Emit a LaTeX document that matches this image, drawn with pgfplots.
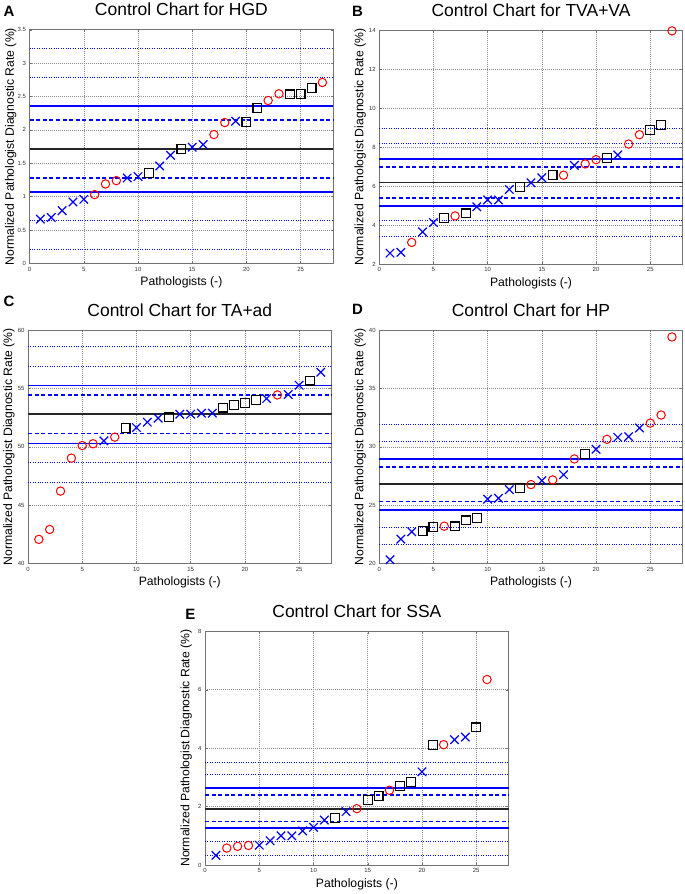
\documentclass[border=0pt]{standalone}
\usepackage{fontspec}
\setmainfont{Liberation Sans}
\usepackage{pgfplots}
\pgfplotsset{compat=1.18}

\pgfplotsset{
 cc/.style={
  scale only axis, width=304pt, height=234pt, anchor=south west,
  xmin=0, xmax=28, xtick={0,5,...,25},
  grid=major, major grid style={black!45, dash pattern=on 0.7pt off 1.3pt, line width=0.5pt},
  axis line style={black!55, line width=0.8pt},
  tick align=inside, tick style={black!55, line width=0.4pt}, major tick length=2.5pt,
  ticklabel style={font=\fontsize{6}{7}\selectfont, text=black!80},
  /pgf/number format/assume math mode=true,
  title style={font=\fontsize{17.5}{20}\selectfont, at={(axis description cs:0.5,1)}, anchor=center, yshift=14pt},
  xlabel style={font=\fontsize{12.2}{14}\selectfont, at={(axis description cs:0.5,0)}, anchor=center, yshift=-19pt},
  ylabel style={font=\fontsize{12.2}{14}\selectfont, at={(axis description cs:0,0.5)}, anchor=center, yshift=19pt},
  xlabel={Pathologists (-)},
  ylabel={Normalized Pathologist Diagnostic Rate (\%)},
  clip=false, unbounded coords=jump,
 },
}
\newcommand{\ctrl}[9]{%
 \addplot[blue, line width=1.0pt, dash pattern=on 1pt off 1.4pt, forget plot]
   coordinates {(0,#1) (28,#1) (14,nan) (0,#2) (28,#2) (14,nan) (0,#3) (28,#3) (14,nan) (0,#4) (28,#4)};
 \addplot[blue, line width=1.8pt, solid, forget plot]
   coordinates {(0,#5) (28,#5) (14,nan) (0,#6) (28,#6)};
 \addplot[blue, line width=1.8pt, dash pattern=on 4pt off 2.6pt, forget plot]
   coordinates {(0,#7) (28,#7) (14,nan) (0,#8) (28,#8)};
 \addplot[black!85, line width=1.8pt, solid, forget plot] coordinates {(0,#9) (28,#9)};
}
\pgfplotsset{
 xs/.style={only marks, mark=x, mark size=6pt, blue, mark options={line width=1.2pt}},
 os/.style={only marks, mark=o, mark size=4.2pt, red, mark options={line width=1pt}},
 ss/.style={only marks, mark=square, mark size=4.4pt, black, mark options={line width=1.2pt}},
}

\begin{document}
\begin{tikzpicture}[x=1pt,y=1pt]
\path (0,0) rectangle (685,894);
% ---------- A ----------
\begin{axis}[cc, at={(29.3pt,631.3pt)}, ymin=0, ymax=3.5, ytick={0,0.5,...,3.5},
  title={Control Chart for HGD}]
\ctrl{3.215}{2.786}{0.639}{0.21}{2.357}{1.073}{2.147}{1.283}{1.715}
\addplot[xs] coordinates {(1,0.664)(2,0.689)(3,0.79)(4,0.92)(5,0.96)(9,1.28)(10,1.30)(12,1.46)(13,1.62)(15,1.74)(16,1.78)(19,2.13)};
\addplot[os] coordinates {(6,1.03)(7,1.19)(8,1.24)(17,1.93)(18,2.11)(22,2.44)(23,2.54)(27,2.71)};
\addplot[ss] coordinates {(11,1.35)(14,1.71)(20,2.12)(21,2.33)(24,2.53)(25,2.54)(26,2.63)};
\end{axis}
% ---------- B ----------
\begin{axis}[cc, at={(379.3pt,630.7pt)}, ymin=2, ymax=14, ytick={2,4,...,14},
  title={Control Chart for TVA+VA}]
\ctrl{8.96}{8.18}{4.21}{3.43}{7.38}{5.0}{6.99}{5.4}{6.19}
\addplot[xs] coordinates {(1,2.56)(2,2.6)(4,3.65)(5,4.13)(9,4.94)(10,5.29)(11,5.29)(12,5.83)(14,6.17)(15,6.43)(18,7.07)(22,7.6)};
\addplot[os] coordinates {(3,3.11)(7,4.47)(17,6.56)(19,7.14)(20,7.36)(23,8.16)(24,8.64)(27,13.97)};
\addplot[ss] coordinates {(6,4.35)(8,4.6)(13,5.97)(16,6.56)(21,7.45)(25,8.88)(26,9.13)};
\end{axis}
% ---------- C ----------
\begin{axis}[cc, at={(27.7pt,330.7pt)}, ymin=40, ymax=60, ytick={40,45,...,60},
  title={Control Chart for TA+ad}]
\ctrl{58.58}{56.89}{48.63}{46.95}{55.24}{50.28}{54.44}{51.14}{52.79}
\addplot[xs] coordinates {(7,50.51)(10,51.65)(11,52.11)(12,52.45)(14,52.79)(15,52.79)(16,52.88)(17,52.88)(22,54.13)(24,54.47)(25,55.27)(27,56.38)};
\addplot[os] coordinates {(1,42.08)(2,42.93)(3,46.21)(4,49.03)(5,50.11)(6,50.26)(8,50.83)(23,54.44)};
\addplot[ss] coordinates {(9,51.62)(13,52.51)(18,53.36)(19,53.59)(20,53.73)(21,53.99)(26,55.67)};
\end{axis}
% ---------- D ----------
\begin{axis}[cc, at={(379.3pt,330.7pt)}, ymin=20, ymax=40, ytick={20,25,...,40},
  title={Control Chart for HP}]
\ctrl{31.92}{30.44}{23.1}{21.65}{28.93}{24.61}{28.25}{25.32}{26.8}
\addplot[xs] coordinates {(1,20.34)(2,22.1)(3,22.73)(10,25.52)(11,25.6)(12,26.34)(15,27.11)(17,27.62)(20,29.79)(22,30.81)(23,30.87)(24,31.61)};
\addplot[os] coordinates {(6,23.21)(14,26.77)(16,27.17)(18,28.96)(21,30.64)(25,32.03)(26,32.72)(27,39.4)};
\addplot[ss] coordinates {(4,22.78)(5,23.13)(7,23.19)(8,23.7)(9,23.93)(13,26.46)(19,29.39)};
\end{axis}
% ---------- E ----------
\begin{axis}[cc, at={(205pt,29pt)}, ymin=0, ymax=8, ytick={0,2,...,8},
  title={Control Chart for SSA}]
\ctrl{3.52}{3.09}{0.81}{0.34}{2.63}{1.26}{2.39}{1.49}{1.93}
\addplot[xs] coordinates {(1,0.33)(5,0.68)(6,0.83)(7,1.0)(8,1.0)(9,1.17)(10,1.29)(11,1.54)(13,1.83)(20,3.19)(23,4.29)(24,4.38)};
\addplot[os] coordinates {(2,0.58)(3,0.64)(4,0.67)(14,1.93)(17,2.56)(22,4.12)(26,6.35)};
\addplot[ss] coordinates {(12,1.6)(15,2.22)(16,2.37)(18,2.71)(19,2.84)(21,4.1)(25,4.71)};
\end{axis}
% panel letters
\begin{scope}[every node/.style={font=\fontsize{15}{16}\selectfont\bfseries, inner sep=0pt, anchor=north west}]
\node at (3,889) {A};
\node at (352,889) {B};
\node at (3,599) {C};
\node at (352,591) {D};
\node at (185,285) {E};
\end{scope}
\end{tikzpicture}
\end{document}
